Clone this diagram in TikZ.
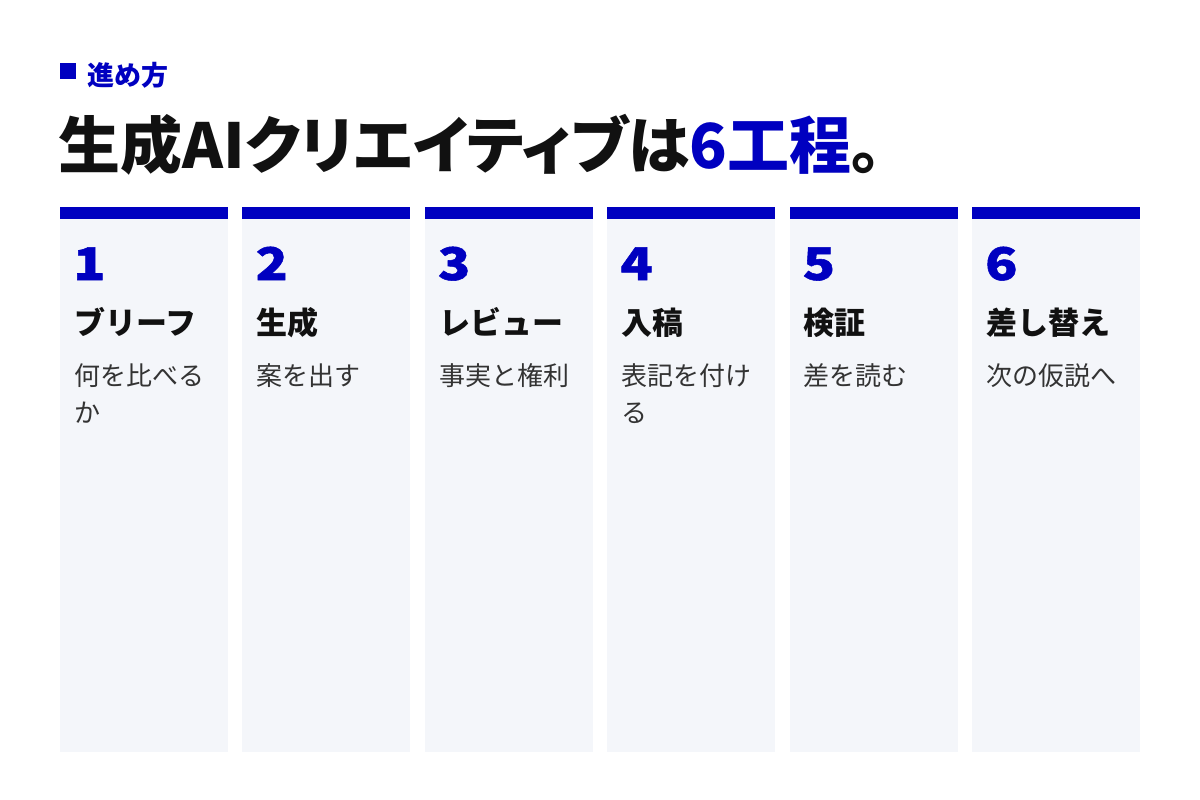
\documentclass[tikz,border=0pt]{standalone}
\usepackage{fontspec}
\setmainfont{Noto Sans CJK JP}
\newfontfamily\jpbold{Noto Sans CJK JP Bold}
\newfontfamily\jpblack{Noto Sans CJK JP Black}
\newfontfamily\jpnum[FakeStretch=1.18,FakeBold=1.2]{Noto Sans CJK JP Black}
\newfontfamily\jpblackp[RawFeature=+palt]{Noto Sans CJK JP Black}
\definecolor{accent}{HTML}{0000C0}
\definecolor{panel}{HTML}{F4F6FA}
\definecolor{ink}{HTML}{111111}
\definecolor{body}{HTML}{333333}
\tikzset{
  bar/.style={fill=accent, draw=none},
  panelbox/.style={fill=panel, draw=none},
  numlabel/.style={anchor=base west, inner sep=0pt, text=accent, font=\jpnum\fontsize{45}{45}\selectfont},
  steptitle/.style={anchor=base west, inner sep=0pt, text=ink, font=\jpblack\fontsize{31}{31}\selectfont},
  stepdesc/.style={anchor=base west, inner sep=0pt, text=body, align=left, font=\fontsize{26}{37.5}\selectfont},
}
\begin{document}
\begin{tikzpicture}[x=1pt,y=-1pt]
\useasboundingbox (0,0) rectangle (1200,800);
\fill[white] (0,0) rectangle (1200,800);
% header
\fill[accent] (60,63) rectangle (76,79);
\node[anchor=base west, inner sep=0pt, text=accent, font=\jpblack\fontsize{27}{27}\selectfont] (kicker) at (87,85) {進め方};
\node[anchor=base west, inner sep=0pt, text=ink, font=\jpblackp\fontsize{62}{62}\selectfont] (title) at (58,168) {生成AIクリエイティブは\textcolor{accent}{6工程}。};
% columns
\foreach \i/\num/\ttl/\desc/\dy in {
  0/1/ブリーフ/{何を比べる\\か}/37.5,
  1/2/生成/{案を出す}/0,
  2/3/レビュー/{事実と権利}/0,
  3/4/入稿/{表記を付け\\る}/37.5,
  4/5/検証/{差を読む}/0,
  5/6/差し替え/{次の仮説へ}/0} {
  \pgfmathsetmacro{\xl}{60+\i*182.4}
  \pgfmathsetmacro{\xr}{\xl+168}
  \fill[panelbox] (\xl,219) rectangle (\xr,752);
  \fill[bar] (\xl,207) rectangle (\xr,219);
  \node[numlabel] (num\num) at (\xl+13,280) {\num};
  \node[steptitle] (ttl\num) at (\xl+14,334) {\ttl};
  \node[stepdesc] (desc\num) at (\xl+14,385+\dy) {\desc};
}
\end{tikzpicture}
\end{document}
